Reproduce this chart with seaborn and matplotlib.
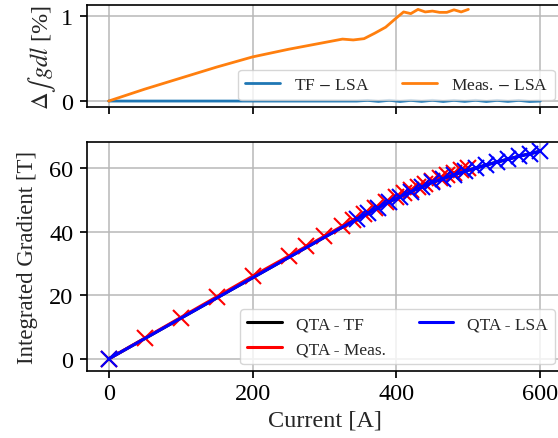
import numpy as np
import pandas as pd
import matplotlib
matplotlib.use("Agg")
import matplotlib.pyplot as plt
import seaborn as sns

# currents [A]
lsa_current = [0, 345, 360, 375, 390, 405, 420, 435, 450, 465, 480, 495,
               510, 525, 540, 555, 570, 585, 600]
meas_current = [0, 50, 100, 150, 200, 250, 275, 300, 325, 340, 355, 370,
                385, 400, 410, 420, 430, 440, 450, 460, 470, 480, 490, 500]

# integrated gradient [T]
lsa_gradient = [0.0, 44.0, 45.8, 47.6, 49.4, 51.0, 52.6, 54.1, 55.5, 56.7,
                57.9, 59.0, 60.0, 61.0, 61.9, 62.8, 63.7, 64.5, 65.3]
tf_gradient = [0.0, 44.0, 45.8, 47.6, 49.4, 51.0, 52.6, 54.1, 55.5, 56.7,
               57.9, 59.0, 60.0, 61.0, 61.9, 62.8, 63.7, 64.5, 65.3]
meas_gradient = [0.0, 6.5, 13.0, 19.5, 26.0, 32.3, 35.4, 38.6, 41.8, 43.7,
                 45.5, 47.4, 49.3, 51.0, 52.1, 53.2, 54.2, 55.1, 56.1, 56.9,
                 57.8, 58.5, 59.3, 60.0]

# relative differences [%]
delta_tf_lsa = [0.0, 0.0, 0.008, -0.004, 0.009, -0.005, 0.008, -0.004, 0.009,
                -0.005, 0.008, -0.004, 0.009, -0.005, 0.008, -0.004, 0.008,
                -0.005, 0.0]
delta_meas_lsa = [0.0, 0.14, 0.27, 0.40, 0.52, 0.61, 0.65, 0.69, 0.73, 0.72,
                  0.735, 0.80, 0.87, 0.98, 1.05, 1.03, 1.08, 1.05, 1.06, 1.045,
                  1.045, 1.075, 1.05, 1.08]

sns.set_theme(style="ticks", rc={
    "axes.edgecolor": "black",
    "axes.linewidth": 1.2,
    "axes.grid": True,
    "grid.color": "#b8b8b8",
    "grid.linewidth": 1.1,
    "xtick.color": "black",
    "ytick.color": "black",
    "xtick.major.size": 5,
    "ytick.major.size": 5,
})
plt.rcParams["font.family"] = ["Liberation Serif", "DejaVu Serif"]
plt.rcParams["mathtext.fontset"] = "stix"

fs = 17.5
lfs = 12.5

fig = plt.figure(figsize=(5.58, 4.39), dpi=100)
ax1 = fig.add_axes([0.156, 0.754, 0.851, 0.232])
ax2 = fig.add_axes([0.156, 0.1526, 0.851, 0.5216])

top = pd.DataFrame({"I": lsa_current, "d": delta_tf_lsa})
topm = pd.DataFrame({"I": meas_current, "d": delta_meas_lsa})
sns.lineplot(data=top, x="I", y="d", ax=ax1, color="tab:blue", lw=2,
             label="TF $-$ LSA")
sns.lineplot(data=topm, x="I", y="d", ax=ax1, color="tab:orange", lw=2,
             label="Meas. $-$ LSA")
ax1.set_xlim(-30, 630)
ax1.set_ylim(-0.07, 1.13)
ax1.set_yticks([0, 1])
ax1.set_xticks([0, 200, 400, 600])
ax1.set_xticklabels([])
ax1.set_xlabel("")
ax1.set_ylabel(r"$\Delta \int\, gdl$ [%]", fontsize=fs, labelpad=2)
ax1.tick_params(labelsize=fs)
ax1.tick_params(axis="y", pad=5)
ax1.legend(loc="lower right", ncol=2, fontsize=lfs, handlelength=2.0,
           columnspacing=1.9, borderaxespad=0.4)

tf = pd.DataFrame({"I": lsa_current, "g": tf_gradient})
ms = pd.DataFrame({"I": meas_current, "g": meas_gradient})
ls = pd.DataFrame({"I": lsa_current, "g": lsa_gradient})
sns.lineplot(data=tf, x="I", y="g", ax=ax2, color="black", lw=2.2,
             label="QTA - TF")
sns.lineplot(data=ms, x="I", y="g", ax=ax2, color="red", lw=2.2,
             label="QTA - Meas.")
ax2.plot(meas_current, meas_gradient, ls="none", marker="x", color="red",
         ms=11, mew=1.5)
sns.lineplot(data=ls, x="I", y="g", ax=ax2, color="blue", lw=2.2,
             label="QTA - LSA")
ax2.plot(lsa_current, lsa_gradient, ls="none", marker="x", color="blue",
         ms=11, mew=1.5)
ax2.set_xlim(-30, 630)
ax2.set_ylim(-3.8, 68.2)
ax2.set_xticks([0, 200, 400, 600])
ax2.set_yticks([0, 20, 40, 60])
ax2.tick_params(labelsize=fs)
ax2.tick_params(axis="y", pad=5)
ax2.set_xlabel("Current [A]", fontsize=fs)
ax2.set_ylabel("Integrated Gradient [T]", fontsize=16.5, labelpad=8)
h, l = ax2.get_legend_handles_labels()
ax2.legend(h, l, loc="lower right", ncol=2, fontsize=lfs, handlelength=2.0,
           columnspacing=1.9, borderaxespad=0.4)

fig.savefig("out.png", dpi=100)
